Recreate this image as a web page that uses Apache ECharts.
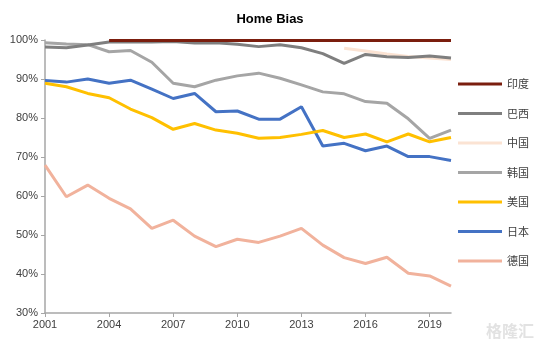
<!DOCTYPE html>
<html><head><meta charset="utf-8">
<script src="https://cdn.jsdelivr.net/npm/echarts@6/dist/echarts.min.js"></script>
<style>html,body{margin:0;padding:0;background:#fff}#c{width:540px;height:343px}</style>
</head><body><div id="c"></div>
<script>
var years = ['2001','2002','2003','2004','2005','2006','2007','2008','2009','2010','2011','2012','2013','2014','2015','2016','2017','2018','2019','2020'];
var india   = [null,null,null,99.9,99.9,99.9,99.9,99.9,99.9,99.9,99.9,99.9,99.9,99.9,99.9,99.9,99.9,99.9,99.9,99.9];
var brazil  = [98.2,98.0,98.7,99.5,99.5,99.5,99.6,99.2,99.3,98.9,98.3,98.8,98.0,96.5,94.0,96.3,95.7,95.5,95.9,95.4];
var china   = [null,null,null,null,null,null,null,null,null,null,null,null,null,null,97.9,97.2,96.4,95.8,95.4,95.0];
var korea   = [99.3,99.0,98.8,97.0,97.3,94.3,88.9,88.0,89.7,90.8,91.5,90.2,88.5,86.7,86.2,84.2,83.8,79.8,74.8,76.9];
var usa     = [88.9,88.0,86.3,85.2,82.3,80.1,77.1,78.6,76.9,76.1,74.8,75.0,75.8,76.8,75.0,75.9,73.9,75.9,73.9,75.0];
var japan   = [89.6,89.2,90.0,88.9,89.7,87.4,85.0,86.3,81.6,81.8,79.7,79.7,82.9,72.8,73.5,71.6,72.8,70.1,70.1,69.1];
var germany = [67.9,59.8,62.8,59.4,56.7,51.7,53.8,49.7,47.0,48.9,48.1,49.7,51.7,47.4,44.2,42.7,44.3,40.2,39.5,36.9];
var names = ['印度','巴西','中国','韩国','美国','日本','德国'];
var yTicks = [30,100,10];

var colors = ['#7b1e0e','#7f7f7f','#fbe3d3','#a5a5a5','#ffc000','#4472c4','#f1b29c'];
var datas = [india,brazil,china,korea,usa,japan,germany];
var chart = echarts.init(document.getElementById('c'), null, {renderer:'canvas'});
var series = names.map(function(n,i){
  return {name:n,type:'line',data:datas[i],showSymbol:false,symbol:'none',
    lineStyle:{width:3,color:colors[i]},itemStyle:{color:colors[i]},z:10-i,animation:false};
});
chart.setOption({
  animation:false,
  title:{text:'Home Bias',left:'center',top:8,textStyle:{fontFamily:'Liberation Sans, Arial',fontSize:13,fontWeight:'bold',color:'#000'}},
  grid:{left:45,right:89,top:40,bottom:30,containLabel:false},
  legend:{orient:'vertical',left:458,top:77,padding:0,itemWidth:44,itemHeight:3,icon:'rect',itemGap:15.5,
    textStyle:{fontFamily:'Noto Sans CJK SC',fontSize:11,color:'#404040',lineHeight:14},data:names},
  xAxis:{type:'category',data:years,boundaryGap:false,
    axisLine:{lineStyle:{color:'#a6a6a6',width:1.5}},
    axisTick:{show:true,interval:2,length:4,lineStyle:{color:'#a6a6a6'}},
    axisLabel:{interval:2,color:'#404040',fontFamily:'Liberation Sans, Arial',fontSize:11,margin:6},
    splitLine:{show:false}},
  yAxis:{type:'value',min:yTicks[0],max:yTicks[1],interval:yTicks[2],
    axisLine:{show:true,lineStyle:{color:'#a6a6a6',width:1.5}},
    axisTick:{show:true,length:4,lineStyle:{color:'#a6a6a6'}},
    axisLabel:{formatter:'{value}%',color:'#404040',fontFamily:'Liberation Sans, Arial',fontSize:11,margin:7},
    splitLine:{show:false}},
  graphic:[{type:'text',right:6,bottom:4,style:{text:'格隆汇',font:'bold 16px "Noto Sans CJK SC"',fill:'#e2e2e2'}}],
  series:series
});
</script></body></html>
